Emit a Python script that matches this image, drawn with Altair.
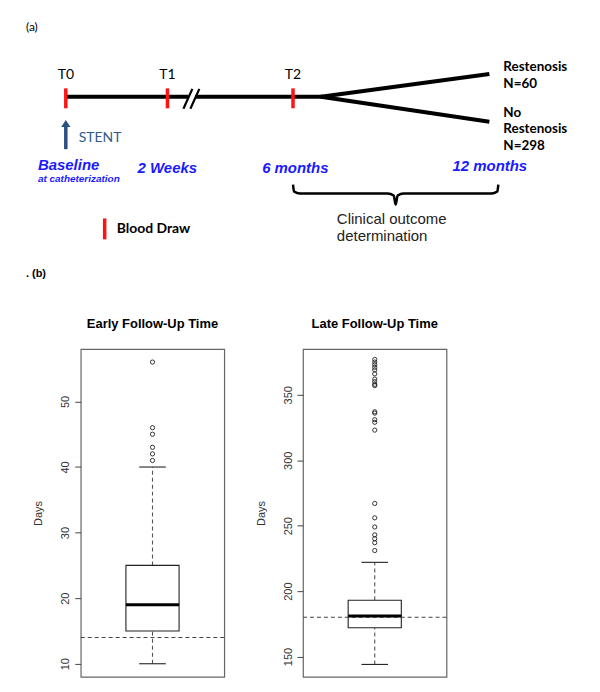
import altair as alt
import pandas as pd

# ---------------- (a) timeline diagram (page-pixel coordinate system) ----------------
draw_labels = ["T0", "T1", "T2"]
draw_x = [65, 167, 293]
timeline_y = 95

period_labels = ["Baseline", "2 Weeks", "6 months", "12 months"]
period_x = [37, 137, 262, 453]
period_y = [163, 166, 166, 164]

sub_label = ["at catheterization"]
sub_x = [37]
sub_y = [177]

outcome_text = ["Restenosis", "N=60", "No", "Restenosis", "N=298"]
outcome_y = [65, 82, 111, 127, 144]
outcome_x = [504, 504, 504, 504, 504]

seg_x = [65, 195, 321, 321]
seg_x2 = [188, 323, 490, 490]
seg_y = [95, 95, 95, 95]
seg_y2 = [95, 95, 72, 120]

slash_x = [183, 190]
slash_x2 = [192, 199]

brace_x = [293, 294, 300, 388, 394, 396, 398, 404, 492, 498, 499]
brace_y = [183, 190, 192, 192, 194, 203, 194, 192, 192, 190, 183]

outcome_note = ["Clinical outcome", "determination"]
note_y = [218, 235]

# ---------------- (b) follow-up box plots ----------------
early = dict(lower=10, q1=15, median=19, q3=25, upper=40)
early_outliers = [41, 42, 43, 45, 46, 56]
early_ref = 14
early_ticks = [10, 20, 30, 40, 50]

late = dict(lower=144, q1=172, median=181, q3=193, upper=222)
late_outliers = [231, 237, 240, 243, 249, 256, 267,
                 323, 329, 331, 336, 337,
                 357, 358, 360, 362, 366, 369, 371, 373, 375, 377]
late_ref = 180
late_ticks = [150, 200, 250, 300, 350]

XS = alt.Scale(domain=[8, 592], nice=False, zero=False)
YS = alt.Scale(domain=[8, 338], nice=False, zero=False, reverse=True)


def X(f="x"):
    return alt.X(f"{f}:Q", scale=XS, axis=None)


def Y(f="y"):
    return alt.Y(f"{f}:Q", scale=YS, axis=None)


def text_layer(labels, xs, ys, **mk):
    df = pd.DataFrame({"t": labels, "x": xs, "y": ys})
    return alt.Chart(df).mark_text(baseline="middle", **mk).encode(x=X(), y=Y(), text="t:N")


segs = alt.Chart(pd.DataFrame({"x": seg_x, "x2": seg_x2, "y": seg_y, "y2": seg_y2})).mark_rule(
    color="black", strokeWidth=4).encode(x=X(), x2="x2:Q", y=Y(), y2="y2:Q")

slashes = alt.Chart(pd.DataFrame({"x": slash_x, "x2": slash_x2, "y": [107, 107], "y2": [87, 87]})).mark_rule(
    color="black", strokeWidth=2.2).encode(x=X(), x2="x2:Q", y=Y(), y2="y2:Q")

red_ticks = alt.Chart(pd.DataFrame({"x": draw_x + [104],
                                    "y": [86.5] * 3 + [217],
                                    "y2": [106.5] * 3 + [238]})).mark_rule(
    color="#ff1414", strokeWidth=3.5).encode(x=X(), y=Y(), y2="y2:Q")

arrow_shaft = alt.Chart(pd.DataFrame({"x": [65], "y": [147.5], "y2": [124]})).mark_rule(
    color="#2a4e7f", strokeWidth=3.5).encode(x=X(), y=Y(), y2="y2:Q")
arrow_head = alt.Chart(pd.DataFrame({"x": [65], "y": [121.7]})).mark_point(
    shape="M-1,0.75L0,-0.75L1,0.75Z", filled=True, size=85, color="#2a4e7f", opacity=1).encode(x=X(), y=Y())

brace = alt.Chart(pd.DataFrame({"x": brace_x, "y": brace_y, "o": list(range(len(brace_x)))})).mark_line(
    color="black", strokeWidth=2.5, interpolate="monotone").encode(x=X(), y=Y(), order="o:Q")

diagram = alt.layer(
    segs, slashes, red_ticks, arrow_shaft, arrow_head, brace,
    text_layer(["(a)"], [25], [25], align="left", font="Lato", fontSize=12, color="black"),
    text_layer(draw_labels, draw_x, [73] * 3, align="center", font="Lato", fontSize=14, color="black"),
    text_layer(["STENT"], [78], [136], align="left", font="Lato", fontSize=14, color="#2e5b8c"),
    text_layer(period_labels, period_x, period_y, align="left", font="Liberation Sans", fontSize=15,
               fontWeight="bold", fontStyle="italic", color="#1a1aff"),
    text_layer(sub_label, sub_x, sub_y, align="left", font="Liberation Sans", fontSize=10,
               fontWeight="bold", fontStyle="italic", color="#1a1aff"),
    text_layer(outcome_text, outcome_x, outcome_y, align="left", font="Lato", fontSize=13.5,
               fontWeight="bold", color="black"),
    text_layer(outcome_note, [337, 337], note_y, align="left", font="Liberation Sans", fontSize=15,
               color="#222"),
    text_layer(["Blood Draw"], [116], [228], align="left", font="Lato", fontSize=14,
               fontWeight="bold", color="black"),
    text_layer([". (b)"], [25], [273], align="left", font="Liberation Sans", fontSize=11,
               fontWeight="bold", color="black"),
).properties(width=584, height=330, view=alt.ViewBackground(stroke="transparent"))


def box_panel(title, st, outliers, ref, domain, ticks):
    xs = alt.Scale(domain=[0.46, 1.54], nice=False, zero=False)
    ys = alt.Scale(domain=domain, nice=False, zero=False)
    ax = alt.Axis(values=ticks, title="Days", domain=False, grid=False, tickSize=6, tickColor="#444",
                  labelAngle=270, labelAlign="center", labelBaseline="alphabetic", labelPadding=6,
                  labelFont="Liberation Sans", labelFontSize=11, labelColor="#333",
                  labelFlush=False, labelOverlap=False,
                  titleFont="Liberation Sans", titleFontSize=11, titleFontWeight="normal",
                  titleColor="#333", titleAngle=270, titleX=-42, titleY=164.5,
                  titleAlign="center", titleBaseline="middle")

    def Xv(f="x"):
        return alt.X(f"{f}:Q", scale=xs, axis=None)

    def Yv(f="v"):
        return alt.Y(f"{f}:Q", scale=ys, axis=ax)

    whisk = alt.Chart(pd.DataFrame({"x": [1, 1], "v": [st["q3"], st["lower"]],
                                    "v2": [st["upper"], st["q1"]]})).mark_rule(
        color="#555", strokeDash=[4, 3], strokeWidth=1.1).encode(x=Xv(), y=Yv(), y2="v2:Q")
    caps = alt.Chart(pd.DataFrame({"x": [0.9, 0.9], "x2": [1.1, 1.1],
                                   "v": [st["lower"], st["upper"]]})).mark_rule(
        color="#222", strokeWidth=1.1).encode(x=Xv(), x2="x2:Q", y=Yv())
    box = alt.Chart(pd.DataFrame({"x": [0.8], "x2": [1.2], "v": [st["q1"]], "v2": [st["q3"]]})).mark_rect(
        fill="white", stroke="#222", strokeWidth=1.1).encode(x=Xv(), x2="x2:Q", y=Yv(), y2="v2:Q")
    refl = alt.Chart(pd.DataFrame({"x": [0.46], "x2": [1.54], "v": [ref]})).mark_rule(
        color="#444", strokeDash=[4, 3], strokeWidth=1.1).encode(x=Xv(), x2="x2:Q", y=Yv())
    med = alt.Chart(pd.DataFrame({"x": [0.8], "x2": [1.2], "v": [st["median"]]})).mark_rule(
        color="black", strokeWidth=3).encode(x=Xv(), x2="x2:Q", y=Yv())
    outs = alt.Chart(pd.DataFrame({"x": [1] * len(outliers), "v": outliers})).mark_point(
        shape="circle", filled=False, size=18, strokeWidth=0.9, color="#222", opacity=1).encode(
        x=Xv(), y=Yv())
    return alt.layer(whisk, caps, box, refl, med, outs).properties(
        width=144, height=329,
        title=alt.TitleParams(text=title, font="Liberation Sans", fontSize=13, fontWeight="bold",
                              color="black", anchor="middle", offset=18),
        view=alt.ViewBackground(stroke="#666", strokeWidth=1.2))


left = box_panel("Early Follow-Up Time", early, early_outliers, early_ref, [8, 58], early_ticks)
right = box_panel("Late Follow-Up Time", late, late_outliers, late_ref, [134.5, 385], late_ticks)

spacer = alt.Chart(pd.DataFrame({"x": [0]})).mark_point(opacity=0).encode(
    x=alt.X("x:Q", axis=None), y=alt.Y("x:Q", axis=None)).properties(
    width=72, height=10, view=alt.ViewBackground(stroke="transparent"))

panels = alt.hconcat(left, right, spacing=79, bounds="flush")
bottom = alt.hconcat(spacer, panels, spacing=0, bounds="flush")

chart = alt.vconcat(diagram, bottom, spacing=10, bounds="flush").properties(padding=0).configure(
    background="white")

chart.save("out.html", embed_options={"renderer": "svg", "actions": False})
